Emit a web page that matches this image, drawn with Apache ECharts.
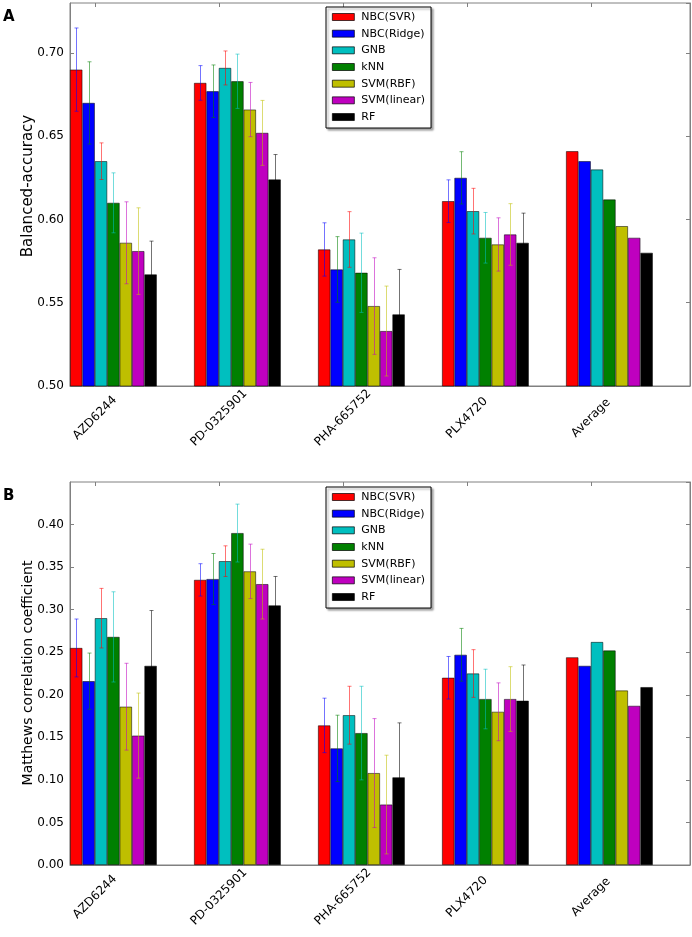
<!DOCTYPE html>
<html>
<head>
<meta charset="utf-8">
<script src="https://cdn.jsdelivr.net/npm/echarts@6/dist/echarts.min.js"></script>
<style>
html,body{margin:0;padding:0;background:#fff;}
#chart{width:692px;height:937px;}
</style>
</head>
<body>
<div id="chart"></div>
<script>
// ---------------- data ----------------
const categories = ['AZD6244', 'PD-0325901', 'PHA-665752', 'PLX4720', 'Average'];
const methods = ['NBC(SVR)', 'NBC(Ridge)', 'GNB', 'kNN', 'SVM(RBF)', 'SVM(linear)', 'RF'];
const barColors = ['#ff0000', '#0000ff', '#00bfbf', '#008000', '#bfbf00', '#bf00bf', '#000000'];
const errColors = ['#0000ff', '#008000', '#ff0000', '#00bfbf', '#bf00bf', '#bfbf00', '#000000'];

// Balanced accuracy (rows = methods, cols = categories)
const accMean = [
  [0.690, 0.682, 0.582, 0.611, 0.641],
  [0.670, 0.677, 0.570, 0.625, 0.635],
  [0.635, 0.691, 0.588, 0.605, 0.630],
  [0.610, 0.683, 0.568, 0.589, 0.612],
  [0.586, 0.666, 0.548, 0.585, 0.596],
  [0.581, 0.652, 0.533, 0.591, 0.589],
  [0.567, 0.624, 0.543, 0.586, 0.580]
];
const accErr = [
  [0.025, 0.0104, 0.016, 0.0128, null],
  [0.0247, 0.0158, 0.0197, 0.0157, null],
  [0.011, 0.0102, 0.0167, 0.0137, null],
  [0.018, 0.0163, 0.0238, 0.0152, null],
  [0.0246, 0.0163, 0.029, 0.016, null],
  [0.026, 0.0195, 0.027, 0.0185, null],
  [0.020, 0.015, 0.027, 0.0178, null]
];
// Matthews correlation coefficient
const mccMean = [
  [0.255, 0.335, 0.164, 0.220, 0.244],
  [0.216, 0.336, 0.137, 0.247, 0.234],
  [0.290, 0.357, 0.176, 0.225, 0.262],
  [0.268, 0.390, 0.155, 0.195, 0.252],
  [0.186, 0.345, 0.108, 0.180, 0.205],
  [0.152, 0.330, 0.071, 0.195, 0.187],
  [0.234, 0.305, 0.103, 0.193, 0.209]
];
const mccErr = [
  [0.034, 0.019, 0.032, 0.025, null],
  [0.033, 0.030, 0.039, 0.031, null],
  [0.035, 0.018, 0.034, 0.028, null],
  [0.053, 0.034, 0.055, 0.035, null],
  [0.051, 0.032, 0.064, 0.034, null],
  [0.050, 0.041, 0.058, 0.038, null],
  [0.065, 0.034, 0.064, 0.042, null]
];
const accTicks = {min: 0.5, max: 0.73, interval: 0.05};
const mccTicks = {min: 0, max: 0.45, interval: 0.05};

// ---------------- chart ----------------
const FONT = 'DejaVu Sans';
const FRAME = '#808080';

const grids = [
  {left: 70, top: 3, width: 620, height: 383, show: true, borderColor: FRAME, borderWidth: 1, backgroundColor: 'transparent'},
  {left: 95, top: 3, width: 496, height: 383, show: false},
  {left: 70, top: 482, width: 620, height: 383, show: true, borderColor: FRAME, borderWidth: 1, backgroundColor: 'transparent'},
  {left: 95, top: 482, width: 496, height: 383, show: false}
];

function barAxis(g) {
  return {type: 'category', gridIndex: g, data: categories, boundaryGap: true,
    axisLine: {show: true, lineStyle: {color: FRAME}}, axisTick: {show: false}, axisLabel: {show: false}};
}
function labelAxis(g) {
  return {type: 'category', gridIndex: g, data: categories, boundaryGap: false, position: 'bottom',
    axisLine: {show: false}, axisTick: {show: false},
    axisLabel: {show: true, rotate: 45, align: 'center', verticalAlign: 'middle', margin: 32,
      fontSize: 12, fontFamily: FONT, color: '#000', interval: 0}};
}
function topTickAxis(g) {
  return {type: 'category', gridIndex: g, data: categories, boundaryGap: false, position: 'top',
    axisLine: {show: false}, axisLabel: {show: false},
    axisTick: {show: true, inside: true, length: 4, interval: 0, lineStyle: {color: FRAME}}};
}
function valAxis(g, t, pos, showLabel) {
  return {type: 'value', gridIndex: g, position: pos, min: t.min, max: t.max, interval: t.interval,
    splitLine: {show: false},
    axisLine: {show: true, lineStyle: {color: FRAME}},
    axisTick: {show: true, inside: true, length: 4, lineStyle: {color: FRAME}},
    axisLabel: {show: showLabel, showMaxLabel: false, margin: 6, fontSize: 12, fontFamily: FONT, color: '#000',
      formatter: v => v.toFixed(2)}};
}
function hiddenY(g) {
  return {type: 'value', gridIndex: g, min: 0, max: 1, show: false};
}

const xAxes = [barAxis(0), labelAxis(1), topTickAxis(1), barAxis(2), labelAxis(3), topTickAxis(3)];
const yAxes = [valAxis(0, accTicks, 'left', true), valAxis(0, accTicks, 'right', false), hiddenY(1),
               valAxis(2, mccTicks, 'left', true), valAxis(2, mccTicks, 'right', false), hiddenY(3)];

function errRenderer(j, color) {
  return function (params, api) {
    const ci = api.value(0), m = api.value(1), e = api.value(2);
    const c = api.coord([ci, m]);
    const band = api.size([1, 0])[0];
    const bw = band * 0.1;
    const x = Math.round(c[0] - band / 2 + (j + 0.5) * bw) + 0.5;
    const yT = api.coord([ci, m + e])[1];
    const yB = api.coord([ci, m - e])[1];
    const cap = 2;
    const style = {stroke: color, lineWidth: 1, opacity: 0.55};
    return {type: 'group', children: [
      {type: 'line', shape: {x1: x, y1: yT, x2: x, y2: yB}, style: style},
      {type: 'line', shape: {x1: x - cap, y1: yT, x2: x + cap, y2: yT}, style: style},
      {type: 'line', shape: {x1: x - cap, y1: yB, x2: x + cap, y2: yB}, style: style}
    ]};
  };
}

const series = [];
function addPanel(xi, yi, means, errs) {
  methods.forEach((name, j) => {
    series.push({type: 'bar', name: name, xAxisIndex: xi, yAxisIndex: yi, data: means[j],
      barWidth: '10%', barGap: '0%', z: 2, animation: false,
      itemStyle: {color: barColors[j], borderColor: 'rgba(0,0,0,0.75)', borderWidth: 0.7}});
  });
  // spacer keeps the bar group at the left 70% of each category band
  series.push({type: 'bar', name: '_spacer', xAxisIndex: xi, yAxisIndex: yi, data: [],
    barWidth: '30%', barGap: '0%', silent: true, animation: false});
  methods.forEach((name, j) => {
    const d = [];
    categories.forEach((c, i) => { if (errs[j][i] != null) d.push([i, means[j][i], errs[j][i]]); });
    series.push({type: 'custom', name: name + ' err', xAxisIndex: xi, yAxisIndex: yi, data: d,
      encode: {x: 0, y: 1}, z: 5, silent: true, animation: false,
      renderItem: errRenderer(j, errColors[j])});
  });
}
addPanel(0, 0, accMean, accErr);
addPanel(3, 3, mccMean, mccErr);

function legendAt(top) {
  return {data: methods, orient: 'vertical', left: 326, top: top,
    itemWidth: 22, itemHeight: 7, itemGap: 2.67, icon: 'rect',
    padding: [3, 6, 4, 6], backgroundColor: '#fff', borderColor: '#000', borderWidth: 1, borderRadius: 0,
    shadowColor: 'rgba(0,0,0,0.35)', shadowOffsetX: 2, shadowOffsetY: 2, shadowBlur: 2,
    itemStyle: {borderColor: '#000', borderWidth: 0.7},
    textStyle: {fontSize: 11, fontFamily: FONT, color: '#000', lineHeight: 14, padding: [0, 0, 0, 2]},
    selectedMode: false};
}

const option = {
  backgroundColor: '#fff',
  animation: false,
  textStyle: {fontFamily: FONT},
  grid: grids,
  xAxis: xAxes,
  yAxis: yAxes,
  legend: [legendAt(7), legendAt(487)],
  series: series,
  graphic: [
    {type: 'text', left: 3, top: 10, style: {text: 'A', fontSize: 15, fontWeight: 'bold', fontFamily: FONT, fill: '#000'}},
    {type: 'text', left: 3, top: 489, style: {text: 'B', fontSize: 15, fontWeight: 'bold', fontFamily: FONT, fill: '#000'}},
    {type: 'text', x: 28, y: 186, rotation: Math.PI / 2,
      style: {text: 'Balanced-accuracy', fontSize: 15, fontFamily: FONT, fill: '#000', align: 'center', verticalAlign: 'middle'}},
    {type: 'text', x: 28, y: 673, rotation: Math.PI / 2,
      style: {text: 'Matthews correlation coefficient', fontSize: 14, fontFamily: FONT, fill: '#000', align: 'center', verticalAlign: 'middle'}}
  ]
};

const chart = echarts.init(document.getElementById('chart'), null, {renderer: 'canvas'});
chart.setOption(option);
</script>
</body>
</html>
